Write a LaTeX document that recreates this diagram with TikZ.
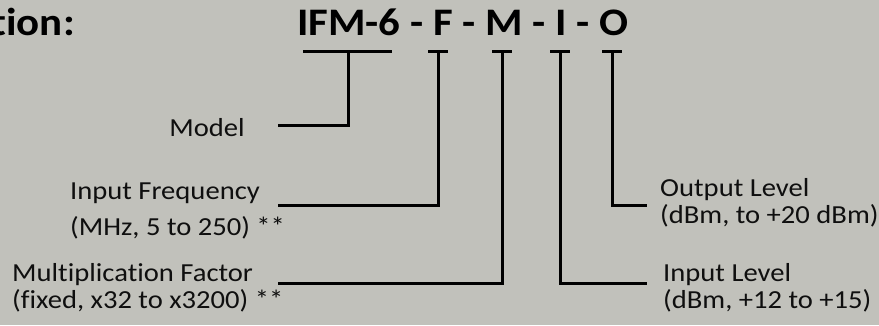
\documentclass[tikz,border=0pt]{standalone}
\usepackage{fontspec}
\setmainfont{Carlito}[FakeStretch=1.1, Ligatures=NoCommon]
\usepackage{xcolor}
\definecolor{slide}{RGB}{193,193,187}
\definecolor{ink}{RGB}{15,15,15}
\usetikzlibrary{calc}
\tikzset{
	code/.style={inner sep=0pt, text=black, font=\fontsize{39}{39}\selectfont\bfseries},
	field/.style={inner sep=0pt, text=ink, align=left, font=\fontsize{26}{27}\selectfont},
	bar/.style={line width=3pt, draw=black}
}

\begin{document}
\begin{tikzpicture}[x=1pt, y=-1pt]

	\useasboundingbox (0,0) rectangle (879,325);
	\fill[slide] (0,0) rectangle (879,325);

	% Heading
	\node[code, anchor=base east] (head) at (75,35) {tion:};
	\node[code, anchor=base west] (partno) at (297,35) {IFM-6 - F - M - I - O};

	% Bars under the part number
	\coordinate (tModel) at (348,51);
	\coordinate (tFreq) at (438,51);
	\coordinate (tMult) at (502,51);
	\coordinate (tIn) at (560,51);
	\coordinate (tOut) at (612,51);
	\draw[bar] (303,51) -- (392,51);
	\foreach \x in {438,502,560,612}
		\draw[bar] (\x-10,51) -- (\x+10,51);

	% Left side (base = last line)
	\node[field, anchor=base east] (model) at (245,136) {Model};
	\node[field, anchor=base west] (freq) at (70,235) {Input Frequency\\[9pt](MHz, 5 to 250) **};
	\node[field, anchor=base west] (mult) at (12,308) {Multiplication Factor\\(fixed, x32 to x3200) **};

	% Right side
	\node[field, anchor=base west] (outlvl) at (660,223) {Output Level\\(dBm, to +20 dBm)};
	\node[field, anchor=base west] (inlvl) at (663,308) {Input Level\\(dBm, +12 to +15)};

	% Leader ends
	\coordinate (eModel) at (278,125);
	\coordinate (eFreq) at (278,205);
	\coordinate (eMult) at (278,283);
	\coordinate (eOut) at (647,205);
	\coordinate (eIn) at (647,283);

	\draw[bar] (tModel) |- (eModel);
	\draw[bar] (tFreq) |- (eFreq);
	\draw[bar] (tMult) |- (eMult);
	\draw[bar] (tIn) |- (eIn);
	\draw[bar] (tOut) |- (eOut);

\end{tikzpicture}
\end{document}
